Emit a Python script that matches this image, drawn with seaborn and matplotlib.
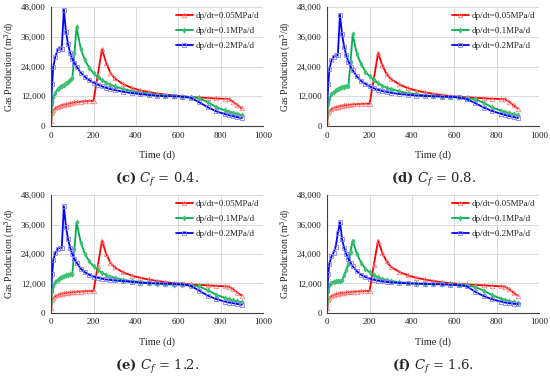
"""Gasproduktion über der Zeit für vier Cf-Werte (2x2 Panels)."""

import matplotlib
matplotlib.use('Agg')
import matplotlib.pyplot as plt
from matplotlib.ticker import FuncFormatter
import seaborn as sns

# Zeitpunkte (d), gemeinsam für alle Kurven
T = [0, 5, 10, 20, 30, 40, 50, 60, 70, 80, 90, 100, 110, 120, 140, 160, 180, 200, 220, 240,
     260, 280, 300, 340, 380, 420, 460, 500, 540, 580, 620, 660, 700, 740, 780, 820, 840, 860, 880, 900]

LABELS = ['dp/dt=0.05MPa/d', 'dp/dt=0.1MPa/d', 'dp/dt=0.2MPa/d']

# (c) Cf = 0.4
C04_RED = [2000, 5500, 6300, 7200, 7700, 8100, 8400, 8600, 8800, 9000, 9200, 9400, 9500, 9600, 9800, 10000, 10100, 10200,
           20500, 31000, 25500, 21500, 19200, 16900, 15400, 14400, 13700, 13100, 12700, 12300, 12000, 11700, 11500,
           11300, 11100, 11000, 10900, 9700, 8400, 7100]
C04_GREEN = [4500, 9500, 11500, 13500, 14800, 15600, 16200, 16700, 17200, 17700, 18400, 19200, 29500, 40000, 31000,
             26500, 23500, 21300, 19700, 18500, 17500, 16700, 16000, 14900, 14100, 13500, 13000, 12600, 12300, 12100,
             11900, 11700, 11200, 9600, 7600, 6300, 5800, 5300, 4900, 4400]
C04_BLUE = [9000, 17000, 24000, 28000, 30500, 31500, 31000, 47000, 38000, 33000, 29500, 27000, 25500, 24000, 21500,
            19800, 18500, 17500, 16700, 16000, 15400, 14900, 14500, 13800, 13300, 12900, 12500, 12200, 12000, 12000,
            11800, 11400, 9500, 7600, 5900, 4800, 4300, 3900, 3500, 3100]

# (d) Cf = 0.8
C08_RED = [1800, 5300, 6000, 6800, 7200, 7500, 7800, 8000, 8200, 8300, 8400, 8500, 8600, 8700, 8800, 8900, 9000, 9000,
           19000, 29500, 24500, 21000, 19000, 16800, 15300, 14300, 13600, 13000, 12500, 12100, 11800, 11600, 11400,
           11200, 11000, 10900, 10800, 9700, 8300, 7000]
C08_GREEN = [4500, 9500, 11000, 12800, 13800, 14500, 15000, 15400, 15700, 15900, 16000, 16000, 26000, 37000, 29000,
             25000, 22000, 20000, 18500, 17300, 16300, 15500, 14900, 14000, 13300, 12800, 12400, 12100, 11900, 11700,
             11500, 11300, 10800, 9300, 7500, 6200, 5700, 5200, 4800, 4400]
C08_BLUE = [9000, 17000, 23000, 26500, 28000, 28500, 28500, 45000, 37000, 32000, 28500, 26000, 24000, 22500, 20000,
            18200, 17000, 16000, 15200, 14600, 14100, 13700, 13400, 12900, 12600, 12300, 12100, 12000, 11900, 11800,
            11500, 10800, 9200, 7400, 6000, 4900, 4400, 4000, 3600, 3200]

# (e) Cf = 1.2
C12_RED = [1800, 5300, 6000, 6800, 7200, 7500, 7800, 8000, 8100, 8200, 8300, 8400, 8500, 8600, 8700, 8800, 8900, 8900,
           19000, 29500, 24000, 20500, 18500, 16500, 15200, 14300, 13600, 13000, 12500, 12100, 11800, 11600, 11400,
           11200, 11000, 10800, 10700, 9600, 8200, 7000]
C12_GREEN = [4500, 9500, 11000, 12500, 13500, 14200, 14700, 15100, 15400, 15600, 15800, 15800, 26000, 37000, 28500,
             24000, 21000, 19000, 17500, 16300, 15500, 14800, 14300, 13500, 13000, 12600, 12200, 11900, 11700, 11500,
             11400, 11200, 10800, 9200, 7400, 6100, 5600, 5100, 4700, 4400]
C12_BLUE = [9000, 16000, 21500, 24500, 26000, 26500, 26500, 43500, 35000, 30000, 26500, 24000, 22000, 20500, 18000,
            16500, 15500, 14800, 14300, 13900, 13600, 13400, 13200, 12900, 12600, 12300, 12100, 12000, 11900, 11800,
            11600, 11000, 9000, 7000, 5600, 4600, 4200, 3900, 3600, 3300]

# (f) Cf = 1.6
C16_RED = [1800, 5300, 6000, 6800, 7200, 7500, 7800, 8000, 8100, 8200, 8300, 8400, 8500, 8600, 8700, 8800, 8900, 8900,
           19500, 29500, 24500, 21000, 18800, 16700, 15300, 14300, 13600, 13000, 12500, 12100, 11800, 11600, 11400,
           11200, 11000, 10800, 10700, 9600, 8200, 7000]
C16_GREEN = [4500, 9800, 11500, 12300, 12600, 12800, 13000, 13100, 13200, 15500, 17500, 20000, 25000, 29500, 24000,
             20500, 18000, 16500, 15300, 14500, 13900, 13400, 13000, 12500, 12200, 12000, 11900, 11800, 11700, 11600,
             11500, 11200, 10500, 9000, 7200, 5800, 5300, 4800, 4400, 4000]
C16_BLUE = [9000, 16000, 20000, 23000, 24500, 27000, 32500, 37000, 30000, 26500, 24000, 22000, 20500, 19000, 17000,
            15500, 14600, 14000, 13500, 13100, 12800, 12600, 12400, 12200, 12000, 11900, 11800, 11700, 11600, 11500,
            11300, 10800, 8500, 6800, 5500, 4600, 4200, 3900, 3700, 3600]

PANELS = [
    ('c', '0.4', C04_RED, C04_GREEN, C04_BLUE),
    ('d', '0.8', C08_RED, C08_GREEN, C08_BLUE),
    ('e', '1.2', C12_RED, C12_GREEN, C12_BLUE),
    ('f', '1.6', C16_RED, C16_GREEN, C16_BLUE),
]

# Linienfarbe, Markerfarbe, Marker
STYLES = [
    ('#FF0000', '#FF8080', '^'),
    ('#00B050', '#40C070', 'd'),
    ('#0000FF', '#8080FF', 's'),
]

sns.set_style('white')
plt.rcParams['font.family'] = ['Liberation Serif', 'DejaVu Serif']
plt.rcParams['mathtext.fontset'] = 'dejavuserif'

fig = plt.figure(figsize=(5.5, 3.76), dpi=100)
positions = [
    (0.093, 0.665, 0.385, 0.316),
    (0.595, 0.665, 0.385, 0.316),
    (0.093, 0.168, 0.385, 0.313),
    (0.595, 0.168, 0.385, 0.313),
]

for (tag, cf, red, green, blue), pos in zip(PANELS, positions):
    ax = fig.add_axes(pos)
    for values, label, (col, mcol, mk) in zip([red, green, blue], LABELS, STYLES):
        sns.lineplot(x=T, y=values, ax=ax, color=col, linewidth=1.3, label=label,
                     marker=mk, markersize=3.2 if mk != 'd' else 2.6,
                     markerfacecolor='none' if mk != 'd' else mcol,
                     markeredgecolor=mcol, markeredgewidth=0.6)
    ax.set_xlim(0, 1000)
    ax.set_ylim(0, 48000)
    ax.set_xticks(range(0, 1001, 200))
    ax.set_yticks(range(0, 48001, 12000))
    ax.yaxis.set_major_formatter(FuncFormatter(lambda v, _: f'{int(v):,}'))
    ax.grid(True, color='#D9D9D9', linewidth=0.7)
    ax.set_axisbelow(True)
    for side in ('top', 'right'):
        ax.spines[side].set_visible(False)
    for side in ('left', 'bottom'):
        ax.spines[side].set_color('#404040')
        ax.spines[side].set_linewidth(0.8)
    ax.tick_params(labelsize=6.5, length=2.5, width=0.6, pad=1.5, colors='#202020')
    ax.set_xlabel('Time (d)', fontsize=7.5, labelpad=8)
    ax.set_ylabel('Gas Production (m$^3$/d)', fontsize=7, labelpad=3)
    ax.legend(loc='upper right', bbox_to_anchor=(1.02, 1.03), frameon=False,
              fontsize=6.5, handlelength=1.9, handletextpad=0.3, labelspacing=0.75)
    # Unterschrift unter dem Panel
    x0, y0, w, h = pos
    fig.text(x0 + w / 2, y0 - 0.145, rf'$\mathbf{{({tag})}}$ $C_f$ = {cf}.',
             ha='center', va='center', fontsize=9.5, family='DejaVu Serif')

fig.savefig('out.png', dpi=100)
plt.close(fig)
